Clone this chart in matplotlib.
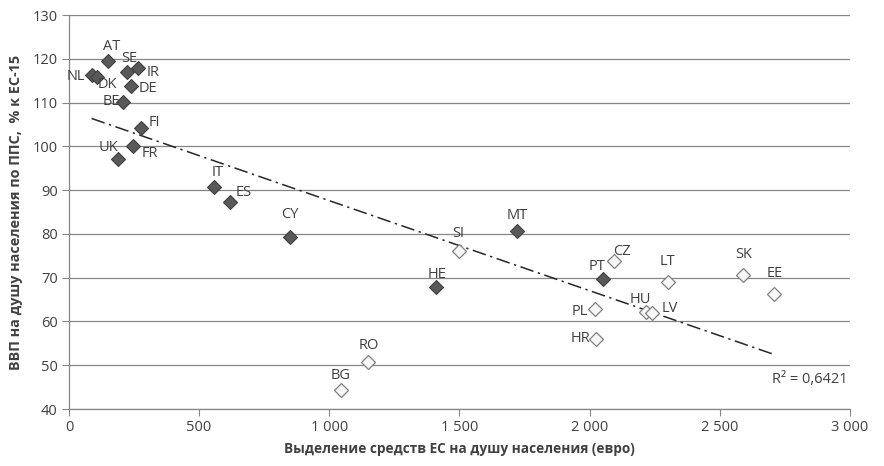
import numpy as np
import matplotlib.pyplot as plt
from matplotlib.ticker import FuncFormatter

plt.rcParams['font.family'] = ['Open Sans', 'DejaVu Sans']

# страны ЕС-15 + CY, MT (заполненные маркеры)
old_codes = ['AT', 'NL', 'DK', 'SE', 'IR', 'DE', 'BE', 'FI', 'FR', 'UK',
             'IT', 'ES', 'CY', 'HE', 'MT', 'PT']
old_x = [151, 87, 106, 222, 266, 238, 209, 277, 247, 190,
         558, 618, 850, 1410, 1720, 2050]
old_y = [119.5, 116.2, 115.8, 117.0, 118.0, 113.8, 110.2, 104.2, 100.0, 97.2,
         90.6, 87.3, 79.3, 67.8, 80.7, 69.6]

# новые члены (полые маркеры)
new_codes = ['SI', 'RO', 'BG', 'CZ', 'LT', 'SK', 'EE', 'PL', 'HU', 'LV', 'HR']
new_x = [1500, 1150, 1045, 2095, 2300, 2590, 2710, 2020, 2215, 2240, 2025]
new_y = [76.1, 50.7, 44.4, 73.9, 68.9, 70.5, 66.2, 62.8, 62.2, 62.0, 56.0]

# смещения подписей, пиксели
old_offsets = [(3, 14), (-16, -1), (11, -7), (3, 13), (15, -5), (17, -3), (-12, 0),
               (13, 5), (17, -7), (-10, 11), (3, 15), (14, 9), (0, 22), (1, 13),
               (0, 15), (-6, 13)]
new_offsets = [(-1, 17), (0, 17), (0, 14), (8, 9), (0, 21), (0, 21), (0, 21),
               (-15, -2), (-5, 12), (18, 4), (-16, 0)]

r2_text = 'R² = 0,6421'

fig = plt.figure(figsize=(8.84, 4.66), dpi=100)
ax = fig.add_axes([0.078, 0.1223, 0.8835, 0.8455])

grey = '#868686'
txt = '#404040'

ax.set_xlim(0, 3000)
ax.set_ylim(40, 130)
ax.set_xticks(range(0, 3001, 500))
ax.set_yticks(range(40, 131, 10))
ax.yaxis.grid(True, color=grey, linewidth=0.9)
ax.set_axisbelow(True)
for s in ['top', 'right']:
    ax.spines[s].set_visible(False)
for s in ['left', 'bottom']:
    ax.spines[s].set_color(grey)
    ax.spines[s].set_linewidth(0.9)
ax.tick_params(axis='both', direction='out', length=5, color=grey,
               labelsize=10.5, labelcolor=txt, pad=3)
ax.xaxis.set_major_formatter(FuncFormatter(lambda v, p: f'{int(v):,}'.replace(',', ' ')))

# линия тренда по всем точкам
all_x = np.array(old_x + new_x, dtype=float)
all_y = np.array(old_y + new_y, dtype=float)
k, b = np.polyfit(all_x, all_y, 1)
tx = np.array([all_x.min(), all_x.max()])
ax.plot(tx, k * tx + b, color='#262626', linewidth=1.1, linestyle=(0, (9, 3, 1.5, 3)), zorder=2)

ax.plot(old_x, old_y, 'D', markersize=7, markerfacecolor='#595959',
        markeredgecolor='#404040', markeredgewidth=0.8, linestyle='none', zorder=3)
ax.plot(new_x, new_y, 'D', markersize=7, markerfacecolor='#f7f7f7',
        markeredgecolor='#808080', markeredgewidth=0.9, linestyle='none', zorder=3)

for codes, xs, ys, offs in [(old_codes, old_x, old_y, old_offsets),
                            (new_codes, new_x, new_y, new_offsets)]:
    for c, x, y, o in zip(codes, xs, ys, offs):
        ax.annotate(c, (x, y), xytext=o, textcoords='offset pixels',
                    ha='center', va='center', fontsize=10.5, color=txt, zorder=4)

ax.text(0.997, 0.074, r2_text, transform=ax.transAxes, ha='right', va='center',
        fontsize=10.5, color=txt)

ax.set_xlabel('Выделение средств ЕС на душу населения (евро)', fontsize=9.8,
              fontweight='bold', color=txt, labelpad=5)
ax.set_ylabel('ВВП на душу населения по ППС,  % к ЕС-15', fontsize=10.4,
              fontweight='bold', color=txt, labelpad=7)

fig.savefig('out.png', dpi=100)
